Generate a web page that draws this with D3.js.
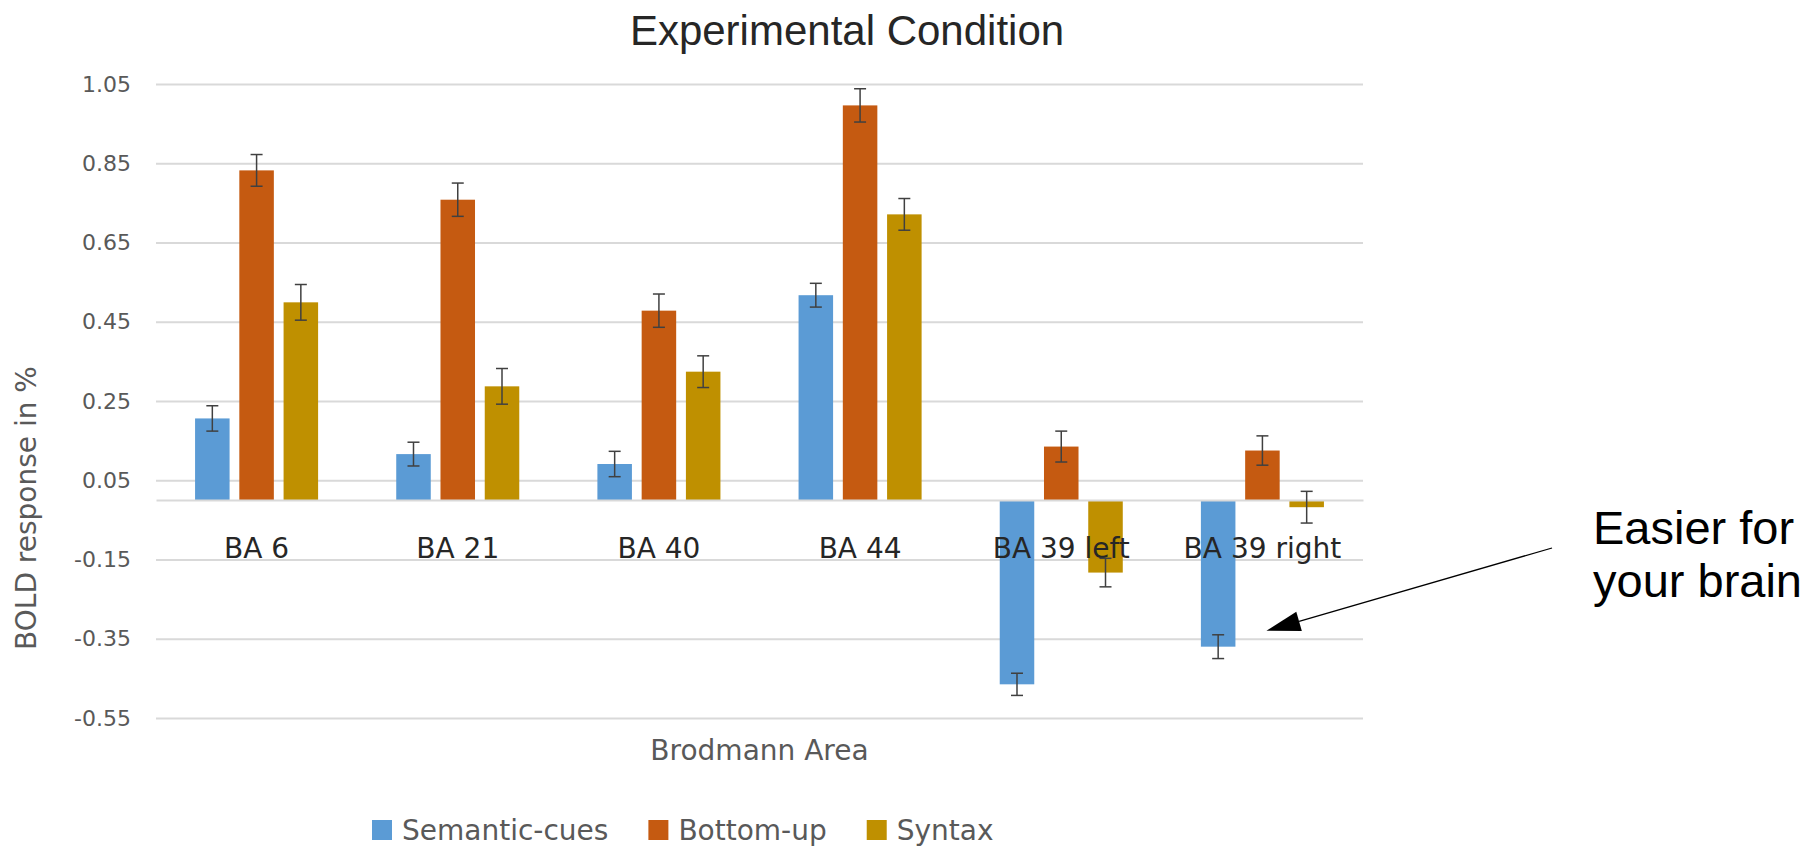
<!DOCTYPE html>
<html>
<head>
<meta charset="utf-8">
<script src="https://cdn.jsdelivr.net/npm/d3@7"></script>
<style>
	html, body { margin: 0; padding: 0; background: #fff; }
	svg { display: block; }
	.axis text { font-family: "DejaVu Sans", sans-serif; }
</style>
</head>
<body>
<div id="chart"></div>
<script>
"use strict";

var categories = ["BA 6", "BA 21", "BA 40", "BA 44", "BA 39 left", "BA 39 right"];
var seriesNames = ["Semantic-cues", "Bottom-up", "Syntax"];
var seriesColors = ["#5b9bd5", "#c55a11", "#bf9000"];

var semanticCues = [0.206, 0.116, 0.091, 0.517, -0.465, -0.370];
var semanticErr = [0.032, 0.030, 0.032, 0.030, 0.028, 0.030];
var bottomUp = [0.832, 0.758, 0.478, 0.996, 0.135, 0.125];
var bottomUpErr = [0.040, 0.042, 0.042, 0.042, 0.039, 0.037];
var syntax = [0.499, 0.287, 0.324, 0.721, -0.183, -0.018];
var syntaxErr = [0.045, 0.045, 0.040, 0.040, 0.036, 0.040];

var yTicks = [-0.55, -0.35, -0.15, 0.05, 0.25, 0.45, 0.65, 0.85, 1.05];
var yTickLabels = ["-0.55", "-0.35", "-0.15", "0.05", "0.25", "0.45", "0.65", "0.85", "1.05"];

var width = 1817, height = 851;
var plot = {left: 156, right: 1363, top: 84, bottom: 718};

var svg = d3.select("#chart").append("svg")
	.attr("width", width)
	.attr("height", height);

var y = d3.scaleLinear()
	.domain([yTicks[0], yTicks[yTicks.length - 1]])
	.range([plot.bottom, plot.top]);

var x0 = d3.scaleBand()
	.domain(categories)
	.range([plot.left, plot.right])
	.paddingInner(0.34)
	.paddingOuter(0.17);

var x1 = d3.scaleBand()
	.domain(seriesNames)
	.range([0, x0.bandwidth()])
	.paddingInner(0.22)
	.paddingOuter(0.11);

// gridlines + tick labels
var yAxis = svg.append("g")
	.attr("class", "axis")
	.attr("transform", "translate(" + plot.left + ",0)")
	.call(d3.axisLeft(y)
		.tickValues(yTicks)
		.tickSize(-(plot.right - plot.left))
		.tickPadding(25)
		.tickFormat(function(d, i) { return yTickLabels[i]; }));
yAxis.select(".domain").remove();
yAxis.selectAll(".tick line").attr("stroke", "#d9d9d9").attr("stroke-width", 2);
yAxis.selectAll(".tick text")
	.attr("fill", "#595959")
	.style("font-size", "22px");

// table rows: one entry per bar
var rows = [];
categories.forEach(function(c, i) {
	rows.push({cat: c, series: seriesNames[0], value: semanticCues[i], err: semanticErr[i], color: seriesColors[0]});
	rows.push({cat: c, series: seriesNames[1], value: bottomUp[i], err: bottomUpErr[i], color: seriesColors[1]});
	rows.push({cat: c, series: seriesNames[2], value: syntax[i], err: syntaxErr[i], color: seriesColors[2]});
});

svg.append("g").selectAll("rect")
	.data(rows)
	.join("rect")
	.attr("x", function(d) { return x0(d.cat) + x1(d.series); })
	.attr("y", function(d) { return y(Math.max(0, d.value)); })
	.attr("width", x1.bandwidth())
	.attr("height", function(d) { return Math.abs(y(d.value) - y(0)); })
	.attr("fill", function(d) { return d.color; });

// zero line with category labels
var xAxis = svg.append("g")
	.attr("class", "axis")
	.attr("transform", "translate(0," + y(0) + ")")
	.call(d3.axisBottom(x0).tickSize(0));
xAxis.select(".domain").attr("stroke", "#d9d9d9").attr("stroke-width", 2);
xAxis.selectAll(".tick text")
	.attr("y", 58)
	.attr("dy", 0)
	.attr("fill", "#262626")
	.style("font-size", "28px");

// error bars
var capW = 6;
var errG = svg.append("g")
	.attr("stroke", "#404040")
	.attr("stroke-width", 1.5)
	.attr("fill", "none");
rows.forEach(function(d) {
	var cx = x0(d.cat) + x1(d.series) + x1.bandwidth() / 2;
	var yHi = y(d.value + d.err), yLo = y(d.value - d.err);
	errG.append("line").attr("x1", cx).attr("x2", cx).attr("y1", yHi).attr("y2", yLo);
	errG.append("line").attr("x1", cx - capW).attr("x2", cx + capW).attr("y1", yHi).attr("y2", yHi);
	errG.append("line").attr("x1", cx - capW).attr("x2", cx + capW).attr("y1", yLo).attr("y2", yLo);
});

// titles
svg.append("text")
	.attr("x", 847)
	.attr("y", 45)
	.attr("text-anchor", "middle")
	.attr("fill", "#262626")
	.style("font-family", "'Liberation Sans', Arial, sans-serif")
	.style("font-size", "42px")
	.text("Experimental Condition");

svg.append("text")
	.attr("transform", "translate(26,508) rotate(-90)")
	.attr("text-anchor", "middle")
	.attr("dominant-baseline", "central")
	.attr("fill", "#595959")
	.style("font-family", "'DejaVu Sans', sans-serif")
	.style("font-size", "28px")
	.text("BOLD response in %");

svg.append("text")
	.attr("x", (plot.left + plot.right) / 2)
	.attr("y", 760)
	.attr("text-anchor", "middle")
	.attr("fill", "#595959")
	.style("font-family", "'DejaVu Sans', sans-serif")
	.style("font-size", "28px")
	.text("Brodmann Area");

// legend
var legend = svg.append("g").attr("transform", "translate(372,830)");
var lx = 0;
seriesNames.forEach(function(name, i) {
	legend.append("rect")
		.attr("x", lx).attr("y", -10)
		.attr("width", 20).attr("height", 20)
		.attr("fill", seriesColors[i]);
	var t = legend.append("text")
		.attr("x", lx + 30).attr("y", 10)
		.attr("fill", "#595959")
		.style("font-family", "'DejaVu Sans', sans-serif")
		.style("font-size", "28px")
		.text(name);
	lx += 30 + t.node().getComputedTextLength() + 40;
});

// annotation pointing at the BA 39 right semantic bar
var tipX = x0("BA 39 right") + x1("Semantic-cues") + x1.bandwidth() + 31;
var tipY = y(-0.33);
var startX = 1552, startY = 548;
var ang = Math.atan2(startY - tipY, startX - tipX);
var headLen = 34, headHalf = 10;
var bx = tipX + headLen * Math.cos(ang), by = tipY + headLen * Math.sin(ang);
svg.append("line")
	.attr("x1", startX).attr("y1", startY)
	.attr("x2", bx).attr("y2", by)
	.attr("stroke", "#000")
	.attr("stroke-width", 1.3);
svg.append("path")
	.attr("d", "M" + tipX + "," + tipY +
		"L" + (bx - headHalf * Math.sin(ang)) + "," + (by + headHalf * Math.cos(ang)) +
		"L" + (bx + headHalf * Math.sin(ang)) + "," + (by - headHalf * Math.cos(ang)) + "Z")
	.attr("fill", "#000");

var note = svg.append("text")
	.attr("fill", "#000")
	.style("font-family", "'Liberation Sans', Arial, sans-serif")
	.style("font-size", "47px");
note.append("tspan").attr("x", 1593).attr("y", 544).text("Easier for");
note.append("tspan").attr("x", 1593).attr("y", 597).text("your brain");
</script>
</body>
</html>
